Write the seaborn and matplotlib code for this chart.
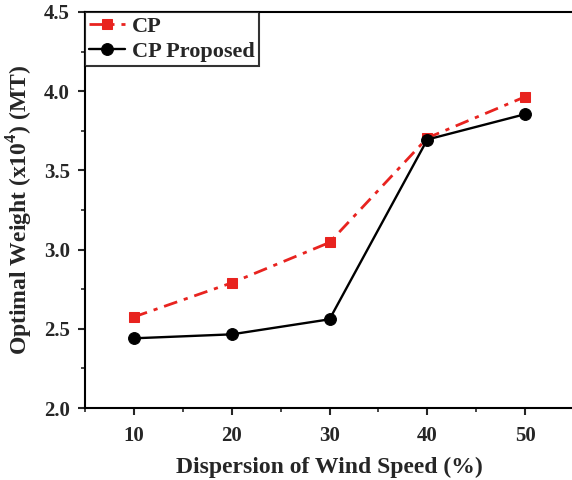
import numpy as np
import pandas as pd
import matplotlib.pyplot as plt
from matplotlib.ticker import MultipleLocator
import seaborn as sns

# ========================
# DATA
# ========================
dispersion  = [10, 20, 30, 40, 50]
cp          = [2.575, 2.79, 3.045, 3.705, 3.965]
cp_proposed = [2.44, 2.465, 2.56, 3.695, 3.855]

df = pd.DataFrame({
    "dispersion": dispersion * 2,
    "weight": cp + cp_proposed,
    "method": ["CP"] * len(cp) + ["CP Proposed"] * len(cp_proposed),
})

# ========================
# STYLE
# ========================
sns.set_style("ticks")
plt.rcParams['font.family'] = ['Liberation Serif', 'DejaVu Serif']
plt.rcParams['font.weight'] = 'bold'
plt.rcParams['mathtext.fontset'] = 'custom'
plt.rcParams['mathtext.rm'] = 'Liberation Serif:bold'
plt.rcParams['mathtext.bf'] = 'Liberation Serif:bold'

fig = plt.figure(figsize=(5.72, 4.8), dpi=100)
ax = fig.add_axes([0.1486, 0.15, 0.855, 0.825])

sns.lineplot(data=df[df.method == "CP"], x="dispersion", y="weight",
             color="#e8231f", linestyle=(0, (5, 2.5, 1.5, 2.5)), marker="s", markersize=7.5,
             markeredgecolor="#e8231f", linewidth=2, label="CP", ax=ax)
sns.lineplot(data=df[df.method == "CP Proposed"], x="dispersion", y="weight",
             color="black", linestyle="-", marker="o", markersize=8.5,
             markeredgecolor="black", linewidth=1.7, label="CP Proposed", ax=ax)

ax.set_xlim(5, 55)
ax.set_ylim(2.0, 4.5)
ax.xaxis.set_major_locator(MultipleLocator(10))
ax.xaxis.set_minor_locator(MultipleLocator(5))
ax.yaxis.set_major_locator(MultipleLocator(0.5))
ax.yaxis.set_minor_locator(MultipleLocator(0.25))
ax.tick_params(which='major', direction='out', length=5, width=1.5,
               labelsize=15, top=False, right=False)
ax.tick_params(axis='x', which='major', pad=8)
ax.tick_params(axis='y', which='major', pad=6)
ax.tick_params(which='minor', direction='out', length=3, width=1.2,
               top=False, right=False)
for s in ax.spines.values():
    s.set_linewidth(1.5)
    s.set_color("black")

ax.set_xlabel("Dispersion of Wind Speed (%)", fontsize=17, fontweight='bold', labelpad=8)
ax.set_ylabel(r"Optimal Weight (x10$^4$) (MT)", fontsize=17, fontweight='bold', labelpad=6)

leg = ax.legend(loc="upper left", bbox_to_anchor=(0, 1), borderaxespad=0,
                fontsize=16, frameon=True, fancybox=False, edgecolor="black",
                handlelength=1.6, handletextpad=0.3, borderpad=0.2, labelspacing=0.2)
leg.get_frame().set_linewidth(1.5)
for t in leg.get_texts():
    t.set_fontweight('bold')

plt.savefig("out.png", dpi=100)
